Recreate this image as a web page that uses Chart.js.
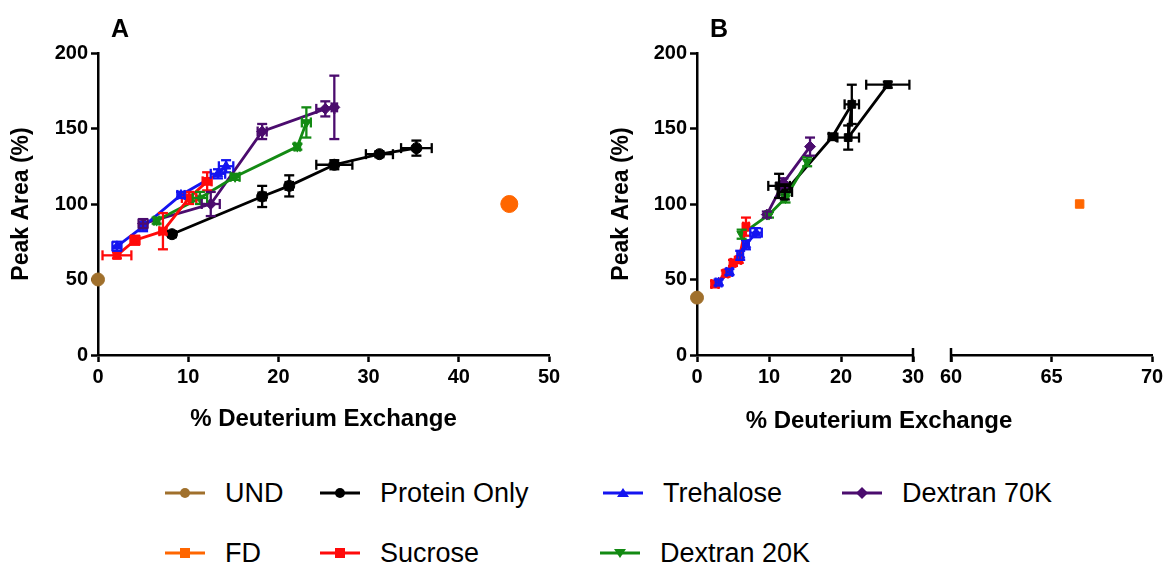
<!DOCTYPE html>
<html><head><meta charset="utf-8">
<script src="https://cdn.jsdelivr.net/npm/chart.js@4.4.1/dist/chart.umd.min.js"></script>
<style>
html,body{margin:0;padding:0;background:#fff;width:1170px;height:572px;overflow:hidden;font-family:'Liberation Sans',Arial,sans-serif;color:#000;}
canvas{position:absolute;}
.t{position:absolute;white-space:nowrap;line-height:1;}
.panel{font-weight:bold;font-size:25px;}
.xt{font-weight:bold;font-size:24px;transform:translateX(-50%);}
.lg{font-size:27px;transform:translateY(-50%);}
svg{position:absolute;}
</style></head><body>
<canvas id="cA" width="590" height="450" style="left:0;top:0"></canvas>
<canvas id="cB1" width="340" height="450" style="left:600px;top:0"></canvas>
<canvas id="cB2" width="240" height="450" style="left:930px;top:0"></canvas>
<div class="t panel" style="left:111px;top:16px">A</div>
<div class="t panel" style="left:710px;top:16px">B</div>
<div class="t xt" style="left:879px;top:408px">% Deuterium Exchange</div>
<div id="legend"></div>
<script>
// ---------- data ----------
const seriesNames = ["UND","Protein Only","Trehalose","Dextran 70K","FD","Sucrose","Dextran 20K"];
const seriesColors = ["#A0702C","#000000","#1414F0","#4B0C6E","#FF6600","#FF0A0A","#138A13"];

// Panel A
const undA_x = [0],   undA_y = [50];
const protA_x = [8.2, 18.2, 21.2, 26.2, 31.2, 35.3];
const protA_y = [80, 105, 112, 126, 133, 137];
const protA_ex = [0, 0.4, 0.4, 2, 1.5, 1.7];
const protA_ey = [2, 7, 7, 3, 2, 5];
const treA_x = [2.1, 5, 9.2, 13.3, 14.2];
const treA_y = [72, 85, 106, 120, 125];
const treA_ex = [0.5, 0.4, 0.4, 0.8, 0.8];
const treA_ey = [3, 3, 2, 3, 4];
const sucA_x = [2.1, 4.1, 7.2, 10.1, 12.1];
const sucA_y = [66, 76, 82, 104, 115];
const sucA_ex = [1.6, 0.5, 0.4, 0.8, 0.5];
const sucA_ey = [2, 3, 12, 4, 6];
const d20A_x = [6.5, 11.3, 15.2, 22.1, 23.1];
const d20A_y = [89, 104, 118, 138, 154];
const d20A_ex = [0.3, 0.8, 0.5, 0.3, 0.5];
const d20A_ey = [2, 4, 2, 2, 10];
const d70A_x = [5, 12.5, 18.2, 25.2, 26.2];
const d70A_y = [87, 100, 148, 163, 164];
const d70A_ex = [0.5, 1, 0.5, 1, 0.3];
const d70A_ey = [3, 8, 5, 5, 21];
const fdA_x = [45.6], fdA_y = [100];

// Panel B
const undB_x = [0],   undB_y = [38];
const protB_x = [11.4, 12.2, 18.8, 21.5, 21, 26.5];
const protB_y = [112, 108, 144.5, 166, 144, 179];
const protB_ex = [1.5, 1, 0.5, 1, 1.5, 3];
const protB_ey = [8, 5, 2, 13, 8, 2];
const treB_x = [3, 4.5, 6, 6.8, 8.2];
const treB_y = [48, 55, 66, 73, 81];
const treB_ex = [0.4, 0.4, 0.4, 0.4, 0.8];
const treB_ey = [2, 2, 3, 3, 3];
const sucB_x = [2.5, 4, 5, 5.8, 6.8];
const sucB_y = [47, 54, 61, 63, 85];
const sucB_ex = [0.5, 0.3, 0.3, 0.3, 0.4];
const sucB_ey = [2, 2, 2, 2, 6];
const d20B_x = [6.2, 10, 12.3, 15.3];
const d20B_y = [80, 93, 104, 128];
const d20B_ey = [3, 2, 3, 3];
const d70B_x = [9.7, 12, 15.7];
const d70B_y = [93, 114, 138];
const d70B_ey = [2, 3, 6];
const fdB_x = [66.4], fdB_y = [100];

// axis ranges / ticks
const yTicks = [0, 50, 100, 150, 200];
const xTicksA = [0, 10, 20, 30, 40, 50];
const xTicksB1 = [0, 10, 20, 30];
const xTicksB2 = [60, 65, 70];

// ---------- helpers ----------
const FONT = "'Liberation Sans', Arial, sans-serif";
const pts = (xs, ys) => xs.map((x, i) => ({x, y: ys[i]}));
const styles = {
  "UND": {pointStyle: 'circle', rot: 0},
  "Protein Only": {pointStyle: 'circle', rot: 0},
  "Trehalose": {pointStyle: 'triangle', rot: 0},
  "Dextran 70K": {pointStyle: 'rectRot', rot: 0},
  "FD": {pointStyle: 'rect', rot: 0},
  "Sucrose": {pointStyle: 'rect', rot: 0},
  "Dextran 20K": {pointStyle: 'triangle', rot: 180}
};
function ds(name, xs, ys, ex, ey, order, radius, styleOverride) {
  const c = seriesColors[seriesNames.indexOf(name)];
  return {
    label: name, data: pts(xs, ys), errX: ex || [], errY: ey || [],
    borderColor: c, backgroundColor: c, borderWidth: 2.8, showLine: true,
    pointStyle: styleOverride || styles[name].pointStyle, pointRotation: styles[name].rot,
    pointRadius: radius || 5.5, pointBorderWidth: 1, order: order
  };
}

const errorBars = {
  id: 'errorBars',
  afterDatasetsDraw(chart) {
    const ctx = chart.ctx, xs = chart.scales.x, ys = chart.scales.y;
    chart.data.datasets.forEach((d) => {
      ctx.save();
      ctx.strokeStyle = d.borderColor; ctx.lineWidth = 2.3;
      const seg = (a, b, c, e) => { ctx.beginPath(); ctx.moveTo(a, b); ctx.lineTo(c, e); ctx.stroke(); };
      d.data.forEach((p, j) => {
        const px = xs.getPixelForValue(p.x), py = ys.getPixelForValue(p.y), cap = 5;
        const ey = d.errY[j], ex = d.errX[j];
        if (ey) {
          const t = ys.getPixelForValue(p.y + ey), b = ys.getPixelForValue(p.y - ey);
          seg(px, t, px, b); seg(px - cap, t, px + cap, t); seg(px - cap, b, px + cap, b);
        }
        if (ex) {
          const l = xs.getPixelForValue(p.x - ex), r = xs.getPixelForValue(p.x + ex);
          seg(l, py, r, py); seg(l, py - cap, l, py + cap); seg(r, py - cap, r, py + cap);
        }
      });
      ctx.restore();
    });
  }
};
const breakMarks = {
  id: 'breakMarks',
  afterDraw(chart, args, opts) {
    if (!opts || !opts.values) return;
    const ctx = chart.ctx, xs = chart.scales.x, bottom = chart.chartArea.bottom;
    ctx.save(); ctx.strokeStyle = '#000'; ctx.lineWidth = 2.5;
    opts.values.forEach(v => {
      const px = xs.getPixelForValue(v);
      ctx.beginPath(); ctx.moveTo(px, bottom - 7); ctx.lineTo(px, bottom + 7); ctx.stroke();
    });
    ctx.restore();
  }
};

function xScale(min, max, tickVals, title) {
  return {
    type: 'linear', min, max, afterBuildTicks: s => { s.ticks = tickVals.map(v => ({value: v})); },
    afterFit: s => { s.height = 85; },
    border: {display: true, color: '#000', width: 2.5},
    grid: {display: true, drawOnChartArea: false, drawTicks: true, tickLength: 7, tickWidth: 2.5, tickColor: '#000'},
    ticks: {color: '#000', padding: 3, maxRotation: 0, font: {family: FONT, size: 20, weight: 'bold'}},
    title: {display: !!title, text: title, color: '#000', padding: {top: 0, bottom: 6}, font: {family: FONT, size: 24, weight: 'bold'}}
  };
}
function yScale(show, w) {
  return {
    type: 'linear', min: 0, max: 200, display: show,
    afterBuildTicks: s => { s.ticks = yTicks.map(v => ({value: v})); },
    afterFit: s => { s.width = w; },
    border: {display: true, color: '#000', width: 2.5},
    grid: {display: true, drawOnChartArea: false, drawTicks: true, tickLength: 7, tickWidth: 2.5, tickColor: '#000'},
    ticks: {color: '#000', padding: 3, font: {family: FONT, size: 20, weight: 'bold'}},
    title: {display: true, text: 'Peak Area (%)', color: '#000', padding: {top: 8, bottom: 0}, font: {family: FONT, size: 23, weight: 'bold'}}
  };
}
function baseOpts(x, y, padding, breakVals) {
  return {
    responsive: false, animation: false, devicePixelRatio: 1,
    layout: {padding},
    clip: false,
    plugins: {legend: {display: false}, tooltip: {enabled: false}, breakMarks: {values: breakVals}},
    scales: {x, y}
  };
}

// Panel A
new Chart(document.getElementById('cA'), {
  type: 'scatter',
  data: {datasets: [
    ds("UND", undA_x, undA_y, null, null, 0, 6.5),
    ds("FD", fdA_x, fdA_y, null, null, 1, 8.5, 'circle'),
    ds("Sucrose", sucA_x, sucA_y, sucA_ex, sucA_ey, 2),
    ds("Trehalose", treA_x, treA_y, treA_ex, treA_ey, 3),
    ds("Dextran 20K", d20A_x, d20A_y, d20A_ex, d20A_ey, 4),
    ds("Dextran 70K", d70A_x, d70A_y, d70A_ex, d70A_ey, 5),
    ds("Protein Only", protA_x, protA_y, protA_ex, protA_ey, 6)
  ]},
  options: baseOpts(xScale(0, 50, xTicksA, '% Deuterium Exchange'), yScale(true, 98),
    {left: 0, right: 41, top: 53, bottom: 10}, null),
  plugins: [errorBars, breakMarks]
});

// Panel B (left part of broken axis)
new Chart(document.getElementById('cB1'), {
  type: 'scatter',
  data: {datasets: [
    ds("UND", undB_x, undB_y, null, null, 0, 6.5),
    ds("Sucrose", sucB_x, sucB_y, sucB_ex, sucB_ey, 1),
    ds("Trehalose", treB_x, treB_y, treB_ex, treB_ey, 2),
    ds("Dextran 20K", d20B_x, d20B_y, null, d20B_ey, 3),
    ds("Dextran 70K", d70B_x, d70B_y, null, d70B_ey, 4),
    ds("Protein Only", protB_x, protB_y, protB_ex, protB_ey, 5, 5.5, 'rect')
  ]},
  options: baseOpts(xScale(0, 30, xTicksB1, ''), yScale(true, 97),
    {left: 0, right: 27, top: 53, bottom: 10}, [30]),
  plugins: [errorBars, breakMarks]
});

// Panel B (right part of broken axis)
new Chart(document.getElementById('cB2'), {
  type: 'scatter',
  data: {datasets: [
    ds("FD", fdB_x, fdB_y, null, null, 0, 6)
  ]},
  options: baseOpts(xScale(60, 70, xTicksB2, ''), yScale(false, 0),
    {left: 21, right: 18, top: 53, bottom: 10}, [60]),
  plugins: [errorBars, breakMarks]
});

// ---------- HTML legend ----------
const legendPos = {
  "UND": [165, 493], "Protein Only": [320, 493], "Trehalose": [603, 493], "Dextran 70K": [842, 493],
  "FD": [165, 553], "Sucrose": [320, 553], "Dextran 20K": [600, 553]
};
const lg = document.getElementById('legend');
seriesNames.forEach((n, i) => {
  const [x, y] = legendPos[n], c = seriesColors[i], st = styles[n];
  let m = '';
  if (st.pointStyle === 'circle') m = `<circle cx="20" cy="10" r="5" fill="${c}"/>`;
  else if (st.pointStyle === 'rect') m = `<rect x="15" y="5" width="10" height="10" fill="${c}"/>`;
  else if (st.pointStyle === 'rectRot') m = `<polygon points="20,4 26,10 20,16 14,10" fill="${c}"/>`;
  else if (st.rot === 180) m = `<polygon points="14,6 26,6 20,15" fill="${c}"/>`;
  else m = `<polygon points="14,14 26,14 20,5" fill="${c}"/>`;
  lg.insertAdjacentHTML('beforeend',
    `<svg width="40" height="20" style="left:${x}px;top:${y - 10}px"><line x1="0" y1="10" x2="40" y2="10" stroke="${c}" stroke-width="3"/>${m}</svg>` +
    `<div class="t lg" style="left:${x + 60}px;top:${y}px">${n}</div>`);
});
</script>
</body></html>
